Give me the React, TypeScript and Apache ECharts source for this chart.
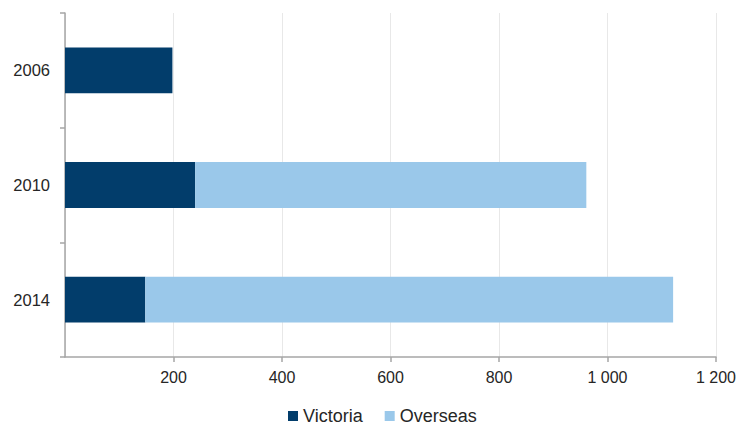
import React, { useEffect, useRef } from "react";
import * as echarts from "echarts";

const years = ["2006", "2010", "2014"];
const victoria = [198, 240, 148];
const overseas = [0, 721, 973];
const xTicks = [0, 200, 400, 600, 800, 1000, 1200];

const FONT = "Liberation Sans";

export default function App() {
  const ref = useRef<HTMLDivElement>(null);

  useEffect(() => {
    if (!ref.current) return;
    const chart = echarts.init(ref.current, null, { renderer: "svg" });
    chart.setOption({
      animation: false,
      backgroundColor: "#ffffff",
      textStyle: { fontFamily: FONT },
      grid: { left: 65, right: 23, top: 13, bottom: 68, containLabel: false },
      legend: {
        top: 402,
        left: 283,
        icon: "rect",
        itemWidth: 10,
        itemHeight: 10,
        itemGap: 22,
        textStyle: { fontSize: 18, color: "#262626", fontFamily: FONT },
        data: ["Victoria", "Overseas"],
      },
      xAxis: {
        type: "value",
        min: xTicks[0],
        max: xTicks[xTicks.length - 1],
        interval: 200,
        axisLine: { show: true, lineStyle: { color: "#A6A6A6", width: 1.5 } },
        axisTick: { show: true, length: 5, lineStyle: { color: "#A6A6A6", width: 1.5 } },
        axisLabel: {
          showMinLabel: false,
          margin: 12,
          fontSize: 16,
          color: "#262626",
          fontFamily: FONT,
          formatter: (v: number) =>
            v === 0 ? "" : String(v).replace(/\B(?=(\d{3})+(?!\d))/g, " "),
        },
        splitLine: { show: true, lineStyle: { color: "#E8E8E8", width: 1 } },
      },
      yAxis: {
        type: "category",
        data: years,
        inverse: true,
        axisLine: { show: true, lineStyle: { color: "#A6A6A6", width: 1.5 } },
        axisTick: { show: true, length: 5, lineStyle: { color: "#A6A6A6", width: 1.5 } },
        axisLabel: { margin: 15, fontSize: 16.5, color: "#262626", fontFamily: FONT },
        splitLine: { show: false },
      },
      series: [
        {
          name: "Victoria",
          type: "bar",
          stack: "total",
          barWidth: "40%",
          data: victoria,
          itemStyle: { color: "#023D6B" },
        },
        {
          name: "Overseas",
          type: "bar",
          stack: "total",
          barWidth: "40%",
          data: overseas,
          itemStyle: { color: "#9AC8EA" },
        },
      ],
    });
    return () => chart.dispose();
  }, []);

  return (
    <div
      ref={ref}
      style={{ position: "absolute", left: 0, top: 0, width: 739, height: 425 }}
    />
  );
}
